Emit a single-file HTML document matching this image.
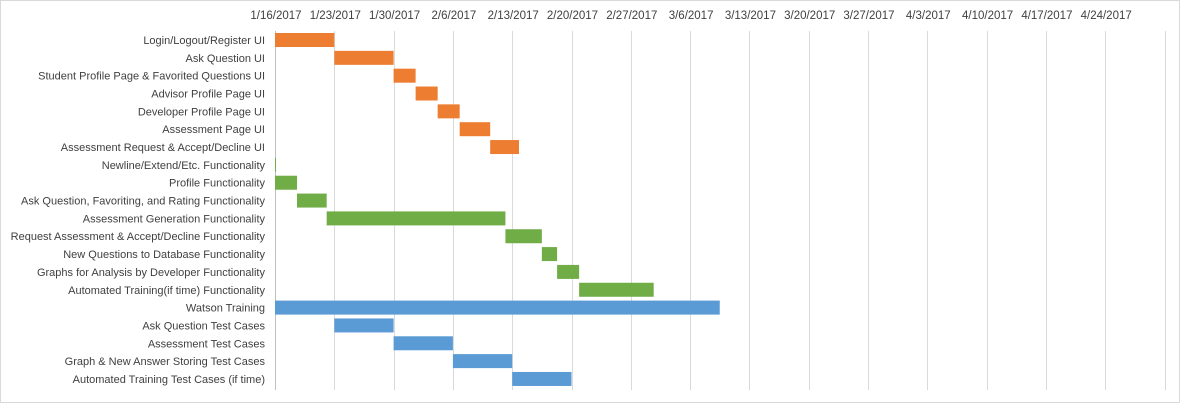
<!DOCTYPE html>
<html><head><meta charset="utf-8"><style>
html,body{margin:0;padding:0;background:#fff;}
svg{display:block;font-family:"Liberation Sans",sans-serif;}
</style></head><body>
<svg id="chart" width="1180" height="403" viewBox="0 0 1180 403">
<rect x="0.5" y="0.5" width="1179" height="402" fill="#fff" stroke="#d9d9d9"/>
<g id="grid"></g><g id="bars"></g><g id="labels"></g><g id="ticks"></g>
</svg>
<script>
const tasks=["Login/Logout/Register UI","Ask Question UI","Student Profile Page & Favorited Questions UI","Advisor Profile Page UI","Developer Profile Page UI","Assessment Page UI","Assessment Request & Accept/Decline UI","Newline/Extend/Etc. Functionality","Profile Functionality","Ask Question, Favoriting, and Rating Functionality","Assessment Generation Functionality","Request Assessment & Accept/Decline Functionality","New Questions to Database Functionality","Graphs for Analysis by Developer Functionality","Automated Training(if time) Functionality","Watson Training","Ask Question Test Cases","Assessment Test Cases","Graph & New Answer Storing Test Cases","Automated Training Test Cases (if time)"];
const startDays=[0,7,14,16.6,19.2,21.8,25.4,0,0,2.6,6.1,27.2,31.5,33.3,35.9,0,7,14,21,28];
const durations=[7,7,2.6,2.6,2.6,3.6,3.4,0.12,2.6,3.5,21.1,4.3,1.8,2.6,8.8,52.5,7,7,7,7];
const groups=[0,0,0,0,0,0,0,1,1,1,1,1,1,1,1,2,2,2,2,2];
const tickLabels=["1/16/2017","1/23/2017","1/30/2017","2/6/2017","2/13/2017","2/20/2017","2/27/2017","3/6/2017","3/13/2017","3/20/2017","3/27/2017","4/3/2017","4/10/2017","4/17/2017","4/24/2017"];
const colors=["#ED7D31","#70AD47","#5B9BD5"];
const NS="http://www.w3.org/2000/svg";
const x0=275,pxPerDay=59.3/7,y0=40,rowH=17.84,barH=14;
const xs=d=>x0+d*pxPerDay, ys=i=>y0+i*rowH;
function mk(t,a,p){const e=document.createElementNS(NS,t);for(const k in a)e.setAttribute(k,a[k]);document.getElementById(p).appendChild(e);return e;}
for(let i=0;i<=15;i++){const x=Math.round(xs(i*7))+0.5;
 const l=mk("line",{x1:x,x2:x,y1:31,y2:390,stroke:i==0?"#bfbfbf":"#d9d9d9"},"grid");
 
 }
tickLabels.forEach((t,i)=>{const e=mk("text",{x:xs(i*7)+1,y:19,"text-anchor":"middle","font-size":"11.5",fill:"#404040"},"ticks");e.textContent=t;
 
 });
tasks.forEach((t,i)=>{
 const e=mk("text",{x:265,y:ys(i)+4,"text-anchor":"end","font-size":"11",fill:"#404040"},"labels");e.textContent=t;
 
 
 const r=mk("rect",{x:xs(startDays[i]),y:ys(i)-barH/2,width:Math.max(1,durations[i]*pxPerDay),height:barH,fill:colors[groups[i]]},"bars");
 
 
});
</script>
</body></html>
